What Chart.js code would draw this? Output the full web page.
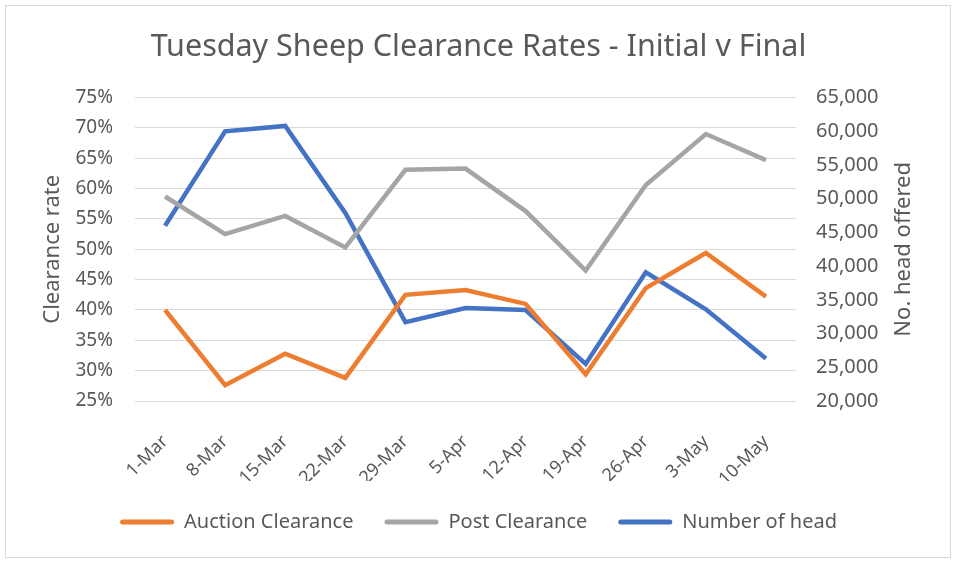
<!DOCTYPE html>
<html>
<head>
    <meta charset="UTF-8">
    <title>Tuesday Sheep Clearance Rates</title>
    <script src="https://cdn.jsdelivr.net/npm/chart.js"></script>
    <style>
        body { margin: 0; background: #fff; }
    </style>
</head>
<body>
    <canvas id="sheepChart" width="957" height="565"></canvas>
    <script>
        var weeks = ['1-Mar', '8-Mar', '15-Mar', '22-Mar', '29-Mar', '5-Apr', '12-Apr', '19-Apr', '26-Apr', '3-May', '10-May'];
        var auctionClearance = [40.0, 27.6, 32.8, 28.8, 42.5, 43.3, 41.0, 29.4, 43.6, 49.4, 42.2];
        var postClearance = [58.7, 52.5, 55.5, 50.3, 63.1, 63.3, 56.3, 46.5, 60.6, 69.0, 64.7];
        var numberOfHead = [46000, 60000, 60800, 47900, 31700, 33800, 33500, 25500, 39100, 33600, 26300];

        var textGrey = '#595959';
        var fontFamily = '"Noto Sans", "Open Sans", sans-serif';

        // outer frame + right axis title (reads bottom to top, like the left one)
        var framePlugin = {
            id: 'frame',
            beforeDraw: function (chart) {
                var c = chart.ctx;
                c.save();
                c.fillStyle = '#fff';
                c.fillRect(0, 0, chart.width, chart.height);
                c.strokeStyle = '#d9d9d9';
                c.lineWidth = 1;
                c.strokeRect(5.5, 5.5, 945, 552);
                c.restore();
            },
            afterDraw: function (chart) {
                var c = chart.ctx;
                var area = chart.chartArea;
                c.save();
                c.translate(904, (area.top + area.bottom) / 2);
                c.rotate(-Math.PI / 2);
                c.font = '22px ' + fontFamily;
                c.fillStyle = textGrey;
                c.textAlign = 'center';
                c.textBaseline = 'middle';
                c.fillText('No. head offered', 0, 0);
                c.restore();
            }
        };

        var ctx = document.getElementById('sheepChart').getContext('2d');
        var sheepChart = new Chart(ctx, {
            type: 'line',
            data: {
                labels: weeks,
                datasets: [{
                    label: 'Auction Clearance',
                    data: auctionClearance,
                    borderColor: '#ED7D31',
                    backgroundColor: '#ED7D31',
                    borderWidth: 4.5,
                    pointRadius: 0,
                    yAxisID: 'y'
                }, {
                    label: 'Post Clearance',
                    data: postClearance,
                    borderColor: '#A5A5A5',
                    backgroundColor: '#A5A5A5',
                    borderWidth: 4.5,
                    pointRadius: 0,
                    yAxisID: 'y'
                }, {
                    label: 'Number of head',
                    data: numberOfHead,
                    borderColor: '#4472C4',
                    backgroundColor: '#4472C4',
                    borderWidth: 4.5,
                    pointRadius: 0,
                    yAxisID: 'y1'
                }]
            },
            options: {
                responsive: false,
                animation: false,
                layout: { padding: { left: 0, right: 0, top: 0, bottom: 23 } },
                plugins: {
                    title: {
                        display: true,
                        text: 'Tuesday Sheep Clearance Rates - Initial v Final',
                        color: textGrey,
                        font: { family: fontFamily, size: 30.5, weight: 'normal' },
                        padding: { top: 29, bottom: 32 }
                    },
                    legend: {
                        position: 'bottom',
                        labels: {
                            color: textGrey,
                            font: { family: fontFamily, size: 20 },
                            boxWidth: 54,
                            boxHeight: 5,
                            padding: 31,
                            useBorderRadius: true,
                            borderRadius: 2.5,
                            generateLabels: function (chart) {
                                return chart.data.datasets.map(function (ds, i) {
                                    return {
                                        text: ds.label,
                                        fillStyle: ds.borderColor,
                                        strokeStyle: ds.borderColor,
                                        lineWidth: 0,
                                        borderRadius: 2.5,
                                        fontColor: textGrey,
                                        datasetIndex: i
                                    };
                                });
                            }
                        }
                    },
                    tooltip: { enabled: false }
                },
                scales: {
                    x: {
                        offset: true,
                        grid: { display: false },
                        border: { display: false },
                        ticks: {
                            color: textGrey,
                            font: { family: fontFamily, size: 18 },
                            minRotation: 45,
                            maxRotation: 45,
                            padding: 22
                        },
                        afterFit: function (scale) { scale.height = 80; }
                    },
                    y: {
                        position: 'left',
                        min: 25,
                        max: 75,
                        border: { display: false },
                        grid: { color: '#d9d9d9', lineWidth: 1, drawTicks: false },
                        ticks: {
                            stepSize: 5,
                            color: textGrey,
                            font: { family: fontFamily, size: 19 },
                            padding: 22,
                            callback: function (v) { return v + '%'; }
                        },
                        title: {
                            display: true,
                            text: 'Clearance rate',
                            color: textGrey,
                            font: { family: fontFamily, size: 22 },
                            padding: { top: 40, bottom: 0 }
                        },
                        afterFit: function (scale) { scale.width = 135; }
                    },
                    y1: {
                        position: 'right',
                        min: 20000,
                        max: 65000,
                        border: { display: false },
                        grid: { display: false, drawTicks: false },
                        ticks: {
                            stepSize: 5000,
                            color: textGrey,
                            font: { family: fontFamily, size: 20 },
                            padding: 20,
                            callback: function (v) { return v.toLocaleString('en-US'); }
                        },
                        afterFit: function (scale) { scale.width = 161; }
                    }
                }
            },
            plugins: [framePlugin]
        });
    </script>
</body>
</html>
